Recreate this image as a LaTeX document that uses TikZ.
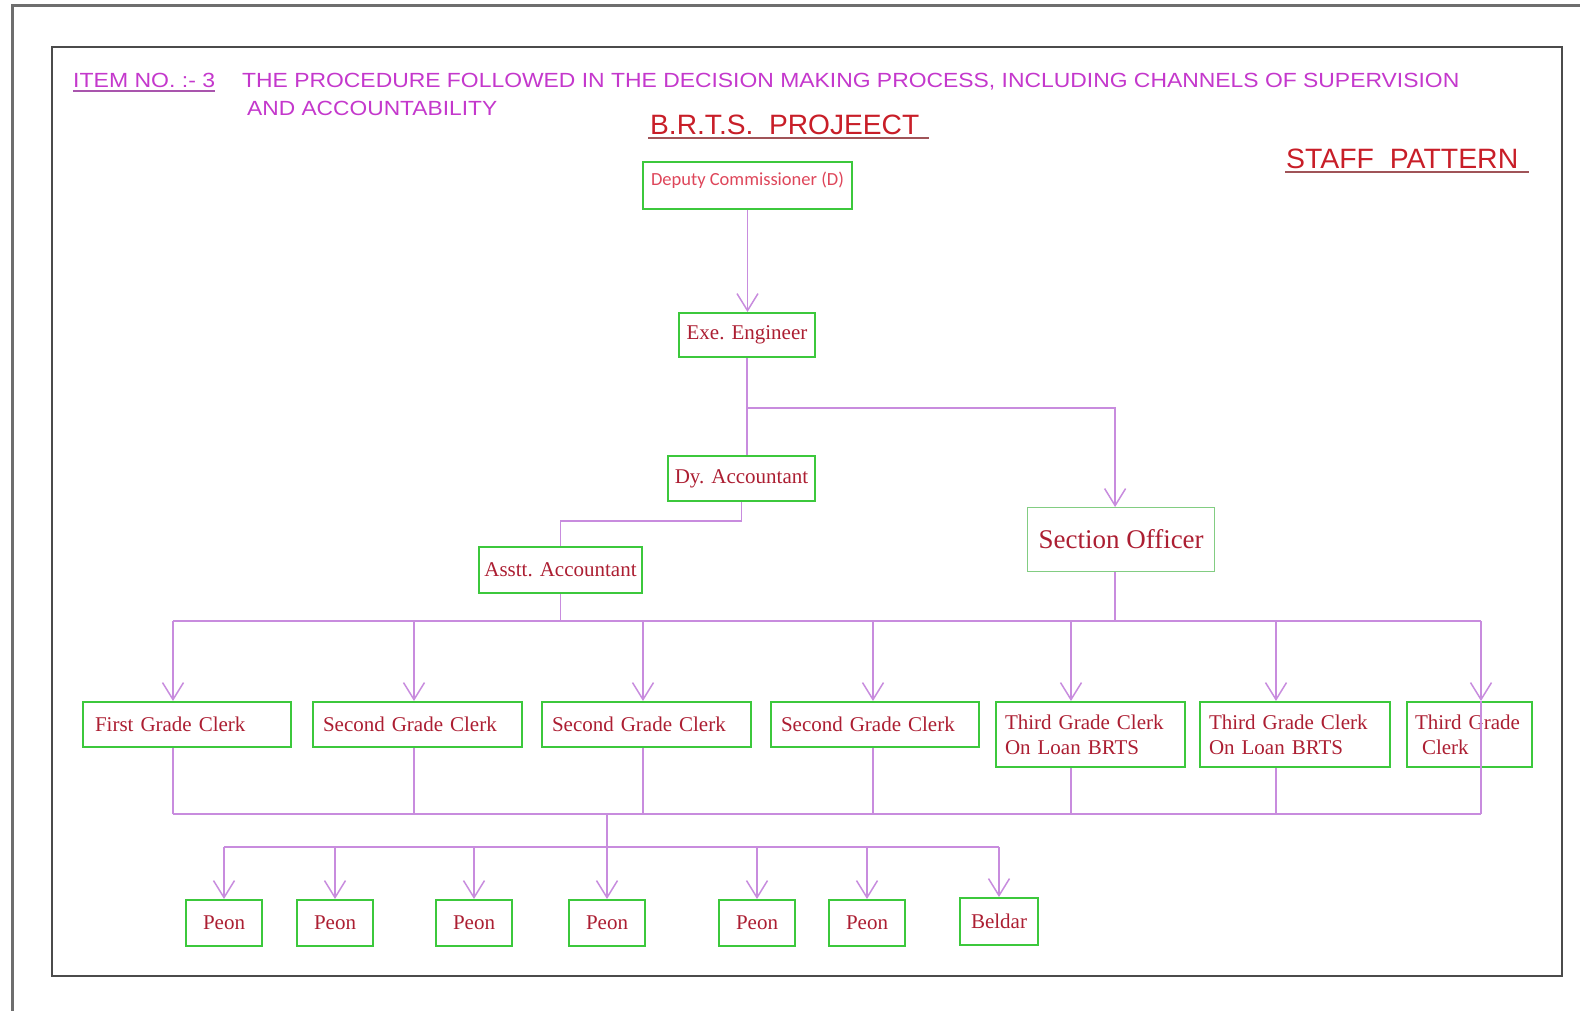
\documentclass[tikz,border=0pt]{standalone}
\usepackage{fontspec}
\setmainfont{Liberation Serif}
\newfontfamily\arialf{Liberation Sans}
\newfontfamily\calib{Carlito}
\usepackage{graphicx}
\usetikzlibrary{arrows.meta}
\definecolor{titlemag}{RGB}{196,56,204}
\definecolor{headred}{RGB}{200,30,40}
\definecolor{nodered}{RGB}{172,30,50}
\definecolor{dcred}{RGB}{222,70,90}
\definecolor{boxgreen}{RGB}{60,200,60}
\definecolor{sogreen}{RGB}{130,205,130}
\definecolor{connc}{RGB}{200,140,222}
\definecolor{framec}{RGB}{75,75,75}
\definecolor{outerc}{RGB}{110,110,110}
\newcommand\fitw[2]{\resizebox{#1}{\height}{#2}}
\tikzset{
  box/.style={draw=boxgreen, line width=2pt, text=nodered, inner sep=0pt,
    font=\fontsize{21}{25}\selectfont},
  clerk/.style={box, anchor=north west, align=left, inner ysep=2pt},
  conn/.style={draw=connc, line width=1.5pt},
  arr/.style={-{Straight Barb[length=17pt,width=21pt]}},
  ttl/.style={anchor=base west, inner sep=0pt, text=titlemag,
    font=\arialf\fontsize{20.5}{20.5}\selectfont},
  hdr/.style={anchor=base west, inner sep=0pt, text=headred,
    font=\arialf\fontsize{28}{28}\selectfont},
}
\begin{document}
\begin{tikzpicture}[x=1pt,y=-1pt]
\useasboundingbox (0,0) rectangle (1580,1010);
% frames
\draw[outerc, line width=3pt] (12,1012) -- (12,5) -- (1582,5);
\draw[framec, line width=2.5pt] (52,47) rectangle (1562,976);

% header texts
\node[ttl] (item) at (73,87) {\fitw{142pt}{ITEM NO. :- 3}};
\draw[titlemag!60!gray, line width=1.3pt] ([yshift=-4pt]item.base west) -- ([yshift=-4pt]item.base east);
\node[ttl] (titleA) at (242,87) {\fitw{1217pt}{THE PROCEDURE FOLLOWED IN THE DECISION MAKING PROCESS, INCLUDING CHANNELS OF SUPERVISION}};
\node[ttl] (titleB) at (247,115) {\fitw{250pt}{AND ACCOUNTABILITY}};
\node[hdr] (brts) at (650,134) {\fitw{269pt}{B.R.T.S.\ \ PROJEECT}};
\draw[headred!45!gray, line width=1.5pt] ([xshift=-2pt,yshift=-4pt]brts.base west) -- ([xshift=10pt,yshift=-4pt]brts.base east);
\node[hdr] (staff) at (1286,168) {\fitw{232pt}{STAFF\ \ PATTERN}};
\draw[headred!45!gray, line width=1.5pt] ([xshift=-1pt,yshift=-4pt]staff.base west) -- ([xshift=11pt,yshift=-4pt]staff.base east);

% upper hierarchy
\node[box, anchor=north west, minimum width=209, minimum height=47, text=dcred,
  font=\calib\fontsize{18.5}{20}\selectfont, text height=13pt, text depth=14pt] (dc) at (642,161) {Deputy Commissioner (D)};
\node[box, anchor=north west, minimum width=136, minimum height=44] (exe) at (678,312) {Exe. Engineer};
\node[box, anchor=north west, minimum width=147, minimum height=45] (dy) at (667,455) {Dy. Accountant};
\node[box, anchor=north west, minimum width=163, minimum height=46] (as) at (478,546) {Asstt. Accountant};
\node[box, draw=sogreen, line width=1.2pt, anchor=north west, minimum width=187, minimum height=64,
  font=\fontsize{27}{30}\selectfont] (so) at (1027,507) {Section Officer};

% clerks
\node[clerk, inner xsep=12pt, text width=184pt, minimum height=45] (c1) at (82,701) {First Grade Clerk};
\node[clerk, inner xsep=10pt, text width=189pt, minimum height=45] (c2) at (312,701) {Second Grade Clerk};
\node[clerk, inner xsep=10pt, text width=189pt, minimum height=45] (c3) at (541,701) {Second Grade Clerk};
\node[clerk, inner xsep=10pt, text width=188pt, minimum height=45] (c4) at (770,701) {Second Grade Clerk};
\node[clerk, inner xsep=9pt, text width=171pt, minimum height=65] (c5) at (995,701) {Third Grade Clerk\\On Loan BRTS};
\node[clerk, inner xsep=9pt, text width=172pt, minimum height=65] (c6) at (1199,701) {Third Grade Clerk\\On Loan BRTS};
\node[clerk, inner xsep=8pt, text width=109pt, minimum height=65] (c7) at (1406,701) {Third Grade\\\hspace*{7pt}Clerk};

% peons
\foreach \x [count=\i] in {224,335,474,607,757,867}
  \node[box, anchor=north, minimum width=76, minimum height=46] (p\i) at (\x,899) {Peon};
\node[box, anchor=north, minimum width=78, minimum height=47] (p7) at (999,897) {Beldar};

% connectors top
\draw[conn, arr] (dc.south) -- (dc.south |- exe.north);
\draw[conn] (exe.south) -- (exe.south |- dy.north);
\coordinate (jso) at (746,408);
\coordinate (soin) at ([xshift=-6pt]so.north);
\coordinate (soout) at ([xshift=-6pt]so.south);
\draw[conn, arr] (jso) -| (soin);
\draw[conn] (dy.south) -- ++(0,19) -| (as.north);

% clerk bus
\foreach \x [count=\i] in {173,414,643,873,1071,1276,1481} {
  \coordinate (t\i) at (\x,621);
  \coordinate (b\i) at (\x,814);
}
\draw[conn] (as.south) -- (as.south |- t1);
\draw[conn] (soout) -- (soout |- t1);
\draw[conn] (t1) -- (t7);
\foreach \i in {1,...,7} \draw[conn, arr] (t\i) -- (t\i |- c\i.north);
\foreach \i in {1,...,6} \draw[conn] (t\i |- c\i.south) -- (b\i);
\draw[conn] (t7 |- c7.north) -- (b7);
\draw[conn] (b1) -- (b7);

% peon bus
\coordinate (pm) at (607,814);
\foreach \x [count=\i] in {224,335,474,607,757,867,999} \coordinate (q\i) at (\x,847);
\draw[conn] (q1) -- (q7);
\draw[conn, arr] (pm) -- (pm |- p4.north);
\foreach \i in {1,2,3,5,6,7} \draw[conn, arr] (q\i) -- (q\i |- p\i.north);
\end{tikzpicture}
\end{document}
